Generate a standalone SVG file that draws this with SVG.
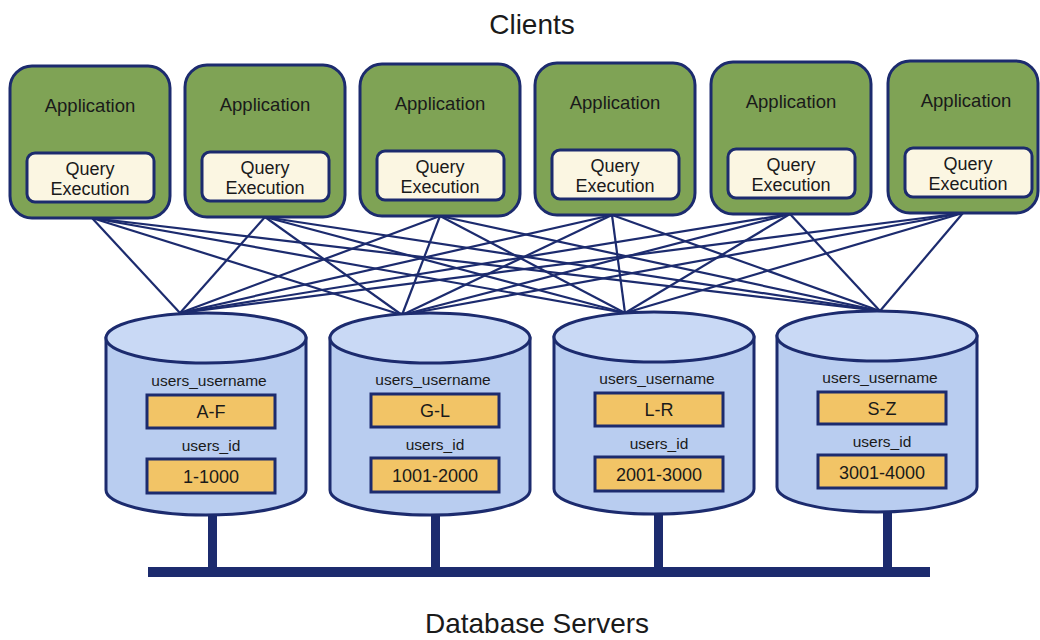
<svg xmlns="http://www.w3.org/2000/svg" width="1040" height="640" viewBox="0 0 1040 640">
<style>
.title{font-family:"Liberation Sans",Arial,sans-serif;font-size:28px;fill:#1a1a1a;text-anchor:middle}
.app{fill:#7fa355;stroke:#1c2b6e;stroke-width:3}
.qe{fill:#fbf6e2;stroke:#1c2b6e;stroke-width:3}
.t1{font-family:"Liberation Sans",Arial,sans-serif;font-size:18.5px;fill:#1a1a1a;text-anchor:middle}
.t2{font-family:"Liberation Sans",Arial,sans-serif;font-size:18px;fill:#1a1a1a;text-anchor:middle}
.t3{font-family:"Liberation Sans",Arial,sans-serif;font-size:15.5px;fill:#1a1a1a;text-anchor:middle}
.cyl{fill:#b9cdf0;stroke:#1c2b6e;stroke-width:3}
.cyltop{fill:#c9d9f5;stroke:#1c2b6e;stroke-width:3}
.rng{fill:#f2c466;stroke:#1c2b6e;stroke-width:3}
.conn line{stroke:#1c2b6e;stroke-width:2.2}
.bus{fill:#1c2b6e}
</style>
<text class="title" x="532" y="34">Clients</text>
<text class="title" x="537" y="633">Database Servers</text>

<g id="connectors" class="conn">
<line x1="92" y1="218" x2="180" y2="313"/><line x1="92" y1="218" x2="402" y2="315"/><line x1="92" y1="218" x2="625" y2="313"/><line x1="92" y1="218" x2="880" y2="311"/>
<line x1="265" y1="217" x2="180" y2="313"/><line x1="265" y1="217" x2="402" y2="315"/><line x1="265" y1="217" x2="625" y2="313"/><line x1="265" y1="217" x2="880" y2="311"/>
<line x1="440" y1="216" x2="180" y2="313"/><line x1="440" y1="216" x2="402" y2="315"/><line x1="440" y1="216" x2="625" y2="313"/><line x1="440" y1="216" x2="880" y2="311"/>
<line x1="612" y1="215" x2="180" y2="313"/><line x1="612" y1="215" x2="402" y2="315"/><line x1="612" y1="215" x2="625" y2="313"/><line x1="612" y1="215" x2="880" y2="311"/>
<line x1="790" y1="214" x2="180" y2="313"/><line x1="790" y1="214" x2="402" y2="315"/><line x1="790" y1="214" x2="625" y2="313"/><line x1="790" y1="214" x2="880" y2="311"/>
<line x1="963" y1="213" x2="180" y2="313"/><line x1="963" y1="213" x2="402" y2="315"/><line x1="963" y1="213" x2="625" y2="313"/><line x1="963" y1="213" x2="880" y2="311"/>
</g>

<g id="client1"><rect class="app" x="10" y="66" width="160" height="152" rx="22"/><text class="t1" x="90" y="112">Application</text><rect class="qe" x="27" y="153" width="127" height="49" rx="8"/><text class="t2" x="90" y="175">Query</text><text class="t2" x="90" y="195">Execution</text></g>
<g id="client2"><rect class="app" x="185" y="65" width="160" height="152" rx="22"/><text class="t1" x="265" y="111">Application</text><rect class="qe" x="202" y="152" width="127" height="49" rx="8"/><text class="t2" x="265" y="174">Query</text><text class="t2" x="265" y="194">Execution</text></g>
<g id="client3"><rect class="app" x="360" y="64" width="160" height="152" rx="22"/><text class="t1" x="440" y="110">Application</text><rect class="qe" x="377" y="151" width="127" height="49" rx="8"/><text class="t2" x="440" y="173">Query</text><text class="t2" x="440" y="193">Execution</text></g>
<g id="client4"><rect class="app" x="535" y="63" width="160" height="152" rx="22"/><text class="t1" x="615" y="109">Application</text><rect class="qe" x="552" y="150" width="127" height="49" rx="8"/><text class="t2" x="615" y="172">Query</text><text class="t2" x="615" y="192">Execution</text></g>
<g id="client5"><rect class="app" x="711" y="62" width="160" height="152" rx="22"/><text class="t1" x="791" y="108">Application</text><rect class="qe" x="728" y="149" width="127" height="49" rx="8"/><text class="t2" x="791" y="171">Query</text><text class="t2" x="791" y="191">Execution</text></g>
<g id="client6"><rect class="app" x="888" y="61" width="150" height="152" rx="22"/><text class="t1" x="966" y="107">Application</text><rect class="qe" x="905" y="148" width="127" height="49" rx="8"/><text class="t2" x="968" y="170">Query</text><text class="t2" x="968" y="190">Execution</text></g>

<g id="bus"><rect class="bus" x="148" y="567" width="782" height="10"/>
<rect class="bus" x="208" y="512" width="9" height="58"/><rect class="bus" x="431" y="512" width="9" height="58"/><rect class="bus" x="654" y="512" width="9" height="58"/><rect class="bus" x="883" y="510" width="9" height="60"/></g>

<g id="db1"><path class="cyl" d="M106,338 L106,490 A100,25 0 0 0 306,490 L306,338 Z"/><ellipse class="cyltop" cx="206" cy="338" rx="100" ry="25"/>
<text class="t3" x="209" y="386">users_username</text><rect class="rng" x="147" y="395" width="128" height="33"/><text class="t2" x="211" y="418">A-F</text>
<text class="t3" x="211" y="451">users_id</text><rect class="rng" x="147" y="459" width="128" height="34"/><text class="t2" x="211" y="483">1-1000</text></g>
<g id="db2"><path class="cyl" d="M330,338 L330,490 A100,25 0 0 0 530,490 L530,338 Z"/><ellipse class="cyltop" cx="430" cy="338" rx="100" ry="25"/>
<text class="t3" x="433" y="385">users_username</text><rect class="rng" x="371" y="394" width="128" height="33"/><text class="t2" x="435" y="417">G-L</text>
<text class="t3" x="435" y="450">users_id</text><rect class="rng" x="371" y="458" width="128" height="34"/><text class="t2" x="435" y="482">1001-2000</text></g>
<g id="db3"><path class="cyl" d="M554,337 L554,489 A100,25 0 0 0 754,489 L754,337 Z"/><ellipse class="cyltop" cx="654" cy="337" rx="100" ry="25"/>
<text class="t3" x="657" y="384">users_username</text><rect class="rng" x="595" y="393" width="128" height="33"/><text class="t2" x="659" y="416">L-R</text>
<text class="t3" x="659" y="449">users_id</text><rect class="rng" x="595" y="457" width="128" height="34"/><text class="t2" x="659" y="481">2001-3000</text></g>
<g id="db4"><path class="cyl" d="M777,336 L777,487 A100,25 0 0 0 977,487 L977,336 Z"/><ellipse class="cyltop" cx="877" cy="336" rx="100" ry="25"/>
<text class="t3" x="880" y="383">users_username</text><rect class="rng" x="818" y="392" width="128" height="32"/><text class="t2" x="882" y="415">S-Z</text>
<text class="t3" x="882" y="447">users_id</text><rect class="rng" x="818" y="455" width="128" height="33"/><text class="t2" x="882" y="479">3001-4000</text></g>
</svg>
